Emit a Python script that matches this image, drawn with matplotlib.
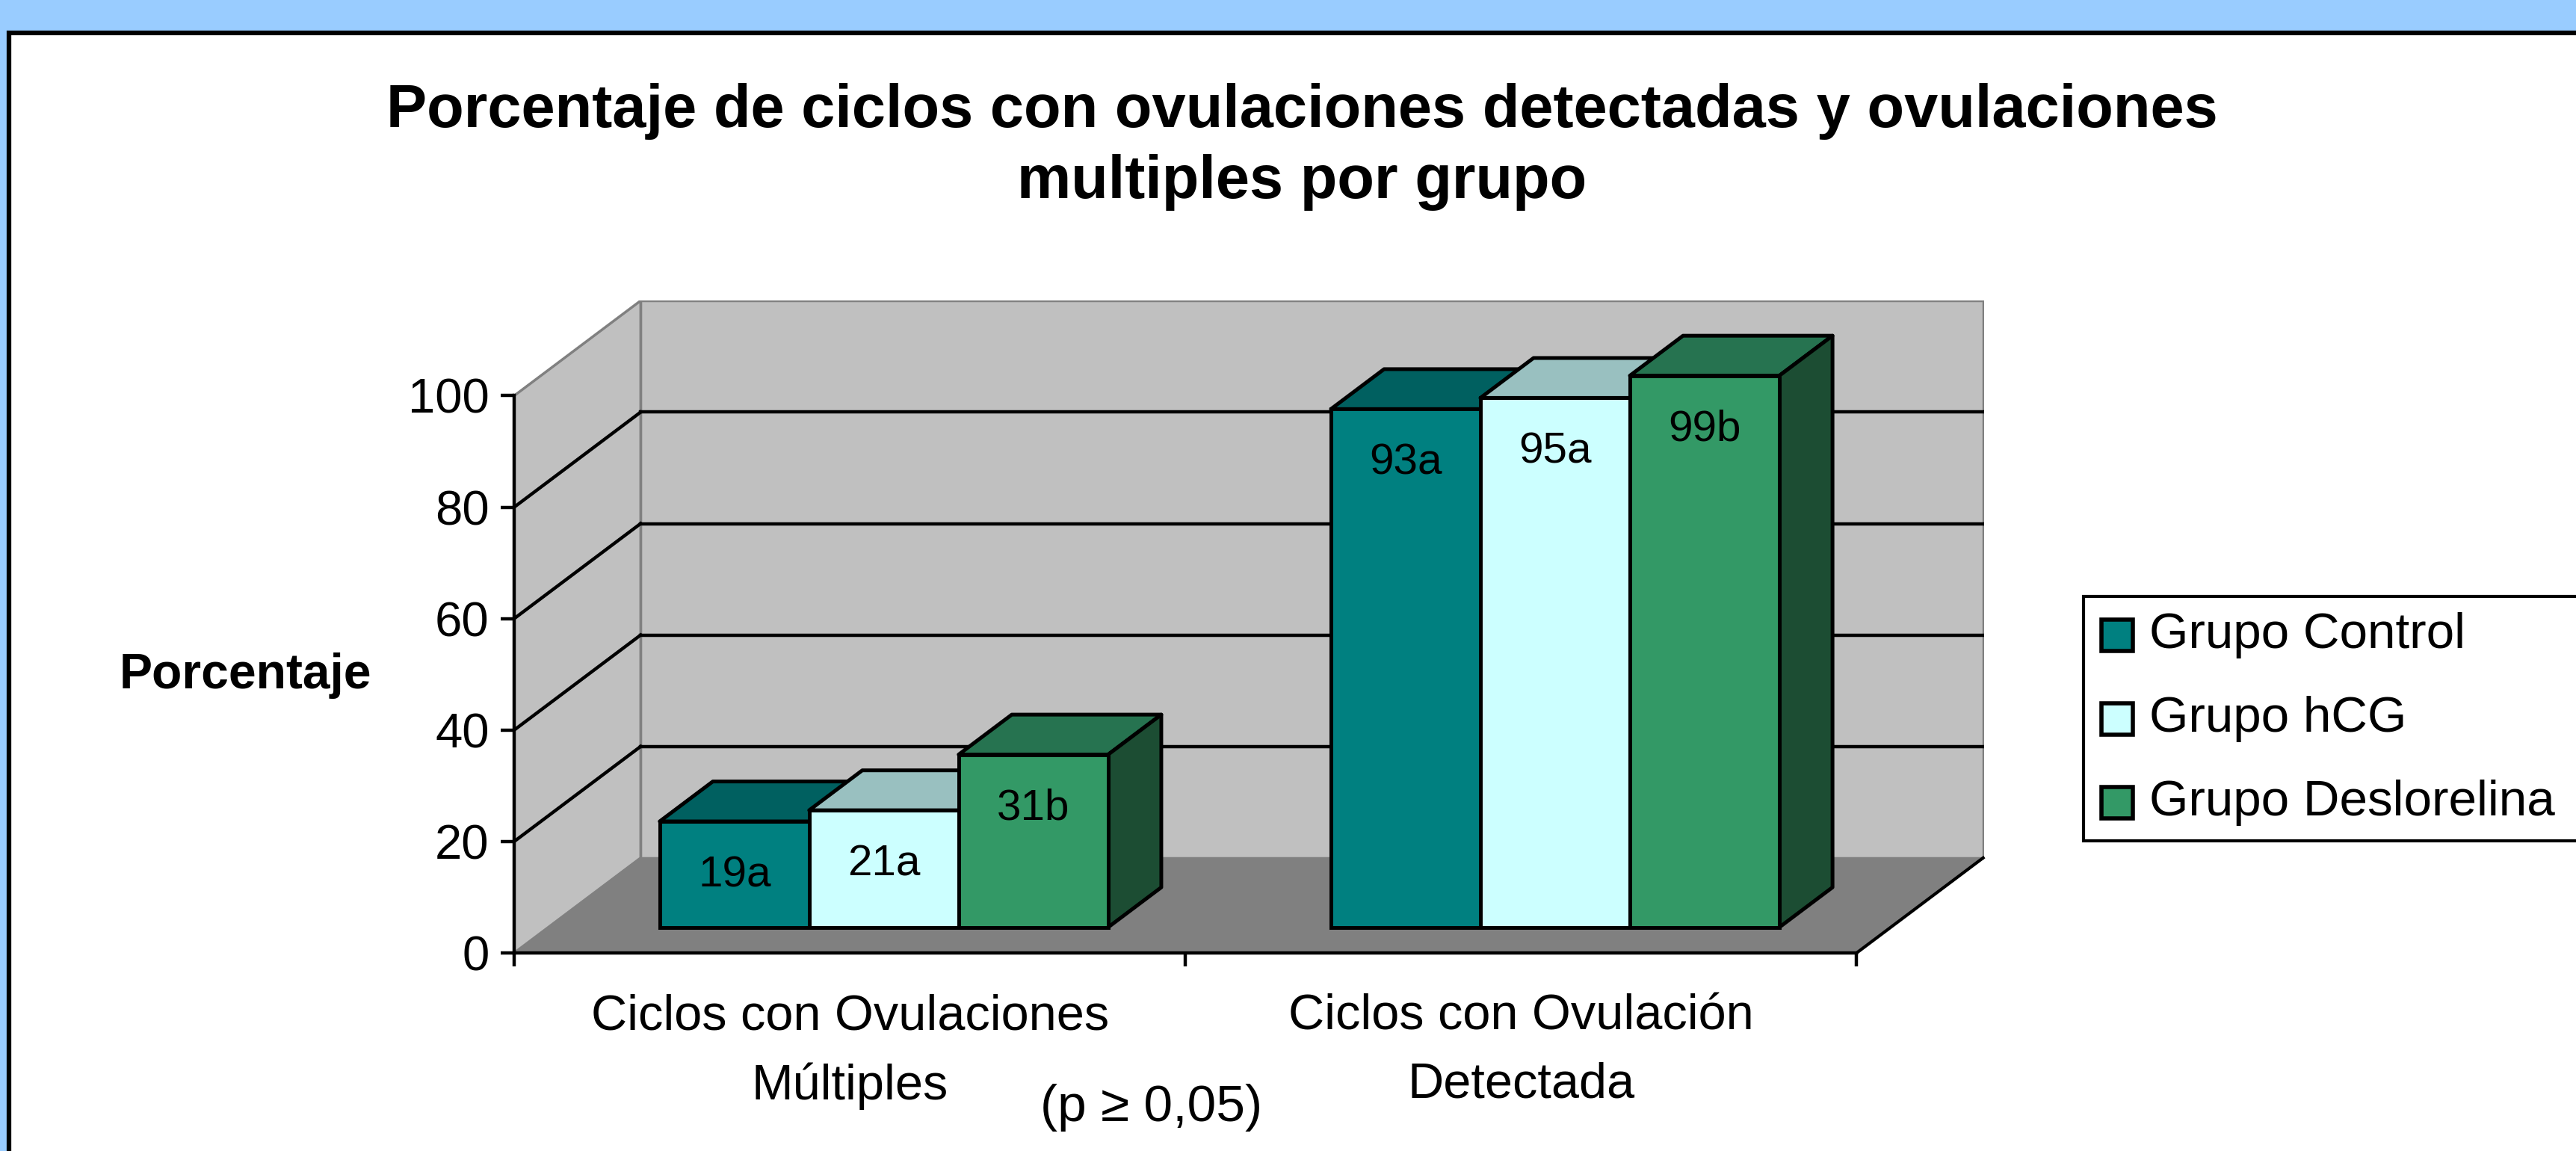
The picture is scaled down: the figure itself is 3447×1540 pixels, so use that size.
import matplotlib
matplotlib.use("Agg")
import matplotlib.pyplot as plt
from matplotlib.patches import Polygon, Rectangle

plt.rcParams['font.family'] = ['Liberation Sans', 'DejaVu Sans']

# data
categories = ['Ciclos con Ovulaciones\nMúltiples', 'Ciclos con Ovulación\nDetectada']
groups = ['Grupo Control', 'Grupo hCG', 'Grupo Deslorelina']
control = [19, 93]
hcg = [21, 95]
deslorelina = [31, 99]
lab_control = ['19a', '93a']
lab_hcg = ['21a', '95a']
lab_desl = ['31b', '99b']
yticks = [0, 20, 40, 60, 80, 100]

front_cols = ['#008080', '#CCFFFF', '#339966']
top_cols = ['#006060', '#99C0C0', '#267350']
side_cols = ['#004040', '#80A0A0', '#1C4D33']

W, H = 3448, 1540
fig = plt.figure(figsize=(W / 100, H / 100), dpi=100, facecolor='#99CCFF')


def fx(px):
    return px / W


def fy(py):
    return 1 - py / H


# white panel with black border (runs off the right / bottom)
fig.add_artist(Rectangle((fx(12), -0.2), 1.3, fy(44) + 0.2, transform=fig.transFigure,
                         fc='white', ec='black', lw=4.5, zorder=0))

fig.text(fx(1742), fy(149), 'Porcentaje de ciclos con ovulaciones detectadas y ovulaciones',
         ha='center', va='center', fontsize=58.5, fontweight='bold')
fig.text(fx(1742), fy(244), 'multiples por grupo',
         ha='center', va='center', fontsize=58.5, fontweight='bold')

ax = fig.add_axes([fx(688), fy(1275), (2655 - 688) / W, (1275 - 402) / H])
ax.set_xlim(0, 2.19)
ax.set_ylim(0, 117.1)
ax.patch.set_visible(False)

# oblique depth of the 3d box (category units, value units)
ddx, ddy = 0.1885, 17.06

ax.add_patch(Polygon([(ddx, ddy), (2 + ddx, ddy), (2 + ddx, 100 + ddy), (ddx, 100 + ddy)],
                     fc='#C0C0C0', ec='#808080', lw=2.5, zorder=1))
ax.add_patch(Polygon([(0, 0), (ddx, ddy), (ddx, 100 + ddy), (0, 100)],
                     fc='#C0C0C0', ec='#808080', lw=2.5, zorder=1))
ax.add_patch(Polygon([(0, 0), (2, 0), (2 + ddx, ddy), (ddx, ddy)],
                     fc='#808080', ec='none', zorder=2))
ax.plot([2, 2 + ddx], [0, ddy], color='black', lw=3, zorder=3, clip_on=False)

for t in yticks[1:-1]:
    ax.plot([ddx, 2 + ddx], [t + ddy, t + ddy], color='black', lw=3.2, zorder=3)
    ax.plot([0, ddx], [t, t + ddy], color='black', lw=3.2, zorder=3)

# bars
f0, f1 = 0.27, 0.69
w = 0.2227
sx, sy = (f1 - f0) * ddx, (f1 - f0) * ddy
series = [control, hcg, deslorelina]
labels = [lab_control, lab_hcg, lab_desl]
for i in range(len(categories)):
    for j, vals in enumerate(series):
        v = vals[i]
        z = 10 + i * 10 + j * 3
        x0 = i + 0.5 + (j - 1.5) * w + f0 * ddx
        y0 = f0 * ddy
        ax.bar(x0, v, width=w, bottom=y0, align='edge', color=front_cols[j],
               edgecolor='black', lw=3.6, zorder=z + 1)
        ax.add_patch(Polygon([(x0, y0 + v), (x0 + w, y0 + v), (x0 + w + sx, y0 + v + sy),
                              (x0 + sx, y0 + v + sy)], fc=top_cols[j], ec='black',
                             lw=3.6, zorder=z, joinstyle='round'))
        ax.add_patch(Polygon([(x0 + w, y0), (x0 + w + sx, y0 + sy), (x0 + w + sx, y0 + v + sy),
                              (x0 + w, y0 + v)], fc=side_cols[j], ec='black',
                             lw=3.6, zorder=z, joinstyle='round'))
        ax.annotate(labels[j][i], (x0 + w / 2, y0 + v), xytext=(0, -52),
                    textcoords='offset points', ha='center', va='center',
                    fontsize=42, zorder=50)

# axes
for s in ['top', 'right']:
    ax.spines[s].set_visible(False)
ax.spines['left'].set_bounds(0, 100)
ax.spines['bottom'].set_bounds(0, 2)
for s in ['left', 'bottom']:
    ax.spines[s].set_linewidth(3.2)
    ax.spines[s].set_zorder(5)
ax.set_yticks(yticks)
ax.set_xticks([0, 1, 2])
ax.set_xticklabels([])
ax.set_xticks([0.5, 1.5], minor=True)
ax.set_xticklabels(categories, minor=True, linespacing=1.62)
ax.tick_params(axis='both', which='major', direction='out', length=13, width=3.2,
               labelsize=47, pad=11)
ax.tick_params(axis='x', which='minor', length=0, labelsize=48, pad=39)

fig.text(fx(328), fy(904), 'Porcentaje', ha='center', va='center',
         fontsize=47.5, fontweight='bold')
fig.text(fx(1541), fy(1482), '(p ≥ 0,05)', ha='center', va='center', fontsize=50)

# legend box (clipped at the right edge like the original)
fig.add_artist(Rectangle((fx(2788), fy(1125)), 0.3, (1125 - 798) / H, transform=fig.transFigure,
                         fc='white', ec='black', lw=3, zorder=5))
for k, name in enumerate(groups):
    yc = 850 + k * 112
    fig.add_artist(Rectangle((fx(2812), fy(yc + 21)), 42 / W, 42 / H, transform=fig.transFigure,
                             fc=front_cols[k], ec='black', lw=4, zorder=6))
    fig.text(fx(2876), fy(yc), name, ha='left', va='center', fontsize=48.5, zorder=6)

fig.savefig('out.png', dpi=100, facecolor=fig.get_facecolor())
